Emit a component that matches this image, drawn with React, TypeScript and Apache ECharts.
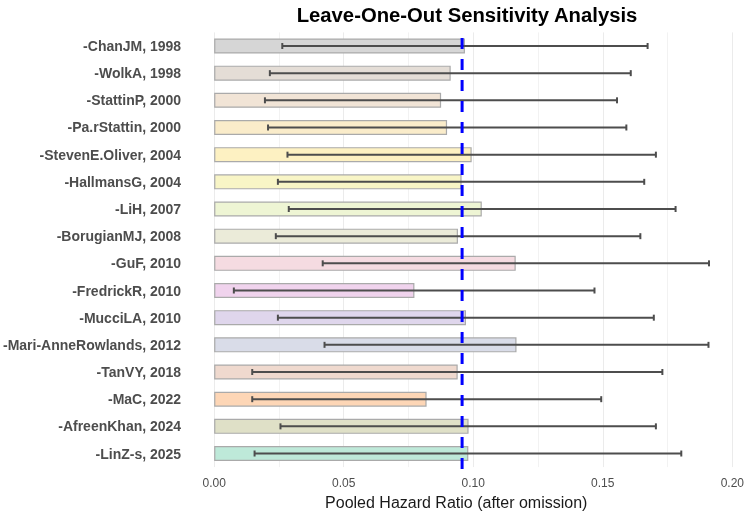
import React, { useEffect, useRef } from "react";
import * as echarts from "echarts";

const studies = [
  "-ChanJM, 1998",
  "-WolkA, 1998",
  "-StattinP, 2000",
  "-Pa.rStattin, 2000",
  "-StevenE.Oliver, 2004",
  "-HallmansG, 2004",
  "-LiH, 2007",
  "-BorugianMJ, 2008",
  "-GuF, 2010",
  "-FredrickR, 2010",
  "-MucciLA, 2010",
  "-Mari-AnneRowlands, 2012",
  "-TanVY, 2018",
  "-MaC, 2022",
  "-AfreenKhan, 2024",
  "-LinZ-s, 2025",
];

const pooledHR = [
  0.0968, 0.0913, 0.0876, 0.0899, 0.0994, 0.0955, 0.1033, 0.0941,
  0.1164, 0.0773, 0.0972, 0.1167, 0.094, 0.082, 0.0982, 0.0981,
];

const lowerCI = [
  0.0263, 0.0215, 0.0196, 0.0208, 0.0283, 0.0246, 0.0288, 0.0238,
  0.0419, 0.0076, 0.0246, 0.0426, 0.0147, 0.0147, 0.0256, 0.0156,
];

const upperCI = [
  0.1673, 0.1608, 0.1555, 0.1591, 0.1705, 0.166, 0.1781, 0.1645,
  0.191, 0.1468, 0.1697, 0.1908, 0.173, 0.1494, 0.1705, 0.1803,
];

const barColors = [
  "#d6d6d6", "#e4ddd6", "#f1e4d6", "#faecca", "#fdf1c2", "#f8f5c6",
  "#eef5d4", "#ebebd9", "#f5dbe1", "#f0d3ed", "#dfd6ec", "#d9dce8",
  "#efd9ce", "#fdd6b6", "#dfe0c7", "#bee9d9",
];

const overallHR = [0.0957];

const xTicks = [0, 0.05, 0.1, 0.15, 0.2];

export default function App() {
  const ref = useRef<HTMLDivElement>(null);

  useEffect(() => {
    if (!ref.current) return;
    const chart = echarts.init(ref.current, null, { renderer: "svg" });
    const font = "Liberation Sans, Arial, Helvetica, sans-serif";

    const option = {
      animation: false,
      textStyle: { fontFamily: font },
      title: {
        text: "Leave-One-Out Sensitivity Analysis",
        left: 462,
        top: 0,
        textAlign: "center",
        textStyle: {
          fontSize: 20.3,
          fontWeight: "bold",
          color: "#000000",
          fontFamily: font,
        },
      },
      grid: {
        left: 214,
        right: 13,
        top: 32.4,
        height: 436.3,
        containLabel: false,
      },
      xAxis: {
        type: "value",
        min: xTicks[0],
        max: xTicks[xTicks.length - 1],
        interval: 0.05,
        name: "Pooled Hazard Ratio (after omission)",
        nameLocation: "middle",
        nameGap: 25,
        nameTextStyle: {
          fontSize: 16,
          color: "#1a1a1a",
          fontFamily: font,
          padding: [0, 34, 0, 0],
        },
        axisLine: { show: false },
        axisTick: { show: false },
        axisLabel: {
          color: "#4d4d4d",
          fontSize: 12,
          margin: 10,
          fontFamily: font,
          formatter: (v: number) => v.toFixed(2),
        },
        splitLine: { show: true, lineStyle: { color: "#ebebeb", width: 1 } },
        minorTick: { show: false, splitNumber: 2 },
        minorSplitLine: { show: true, lineStyle: { color: "#f2f2f2", width: 1 } },
      },
      yAxis: {
        type: "category",
        data: studies,
        inverse: true,
        axisLine: { show: false },
        axisTick: { show: false },
        splitLine: { show: false },
        axisLabel: {
          color: "#4d4d4d",
          fontSize: 14,
          fontWeight: "bold",
          margin: 33,
          fontFamily: font,
        },
      },
      series: [
        {
          type: "bar",
          data: pooledHR.map((v, i) => ({
            value: v,
            itemStyle: {
              color: barColors[i],
              borderColor: "#aaaaaa",
              borderWidth: 1.2,
            },
          })),
          barWidth: 15,
          z: 2,
        },
        {
          type: "custom",
          z: 3,
          data: studies.map((_, i) => [i, lowerCI[i], upperCI[i]]),
          renderItem: (params: any, api: any) => {
            const idx = api.value(0);
            const lo = api.coord([api.value(1), idx]);
            const hi = api.coord([api.value(2), idx]);
            const h = 3;
            const style = { stroke: "#4d4d4d", lineWidth: 2 };
            return {
              type: "group",
              children: [
                { type: "line", shape: { x1: lo[0], y1: lo[1], x2: hi[0], y2: hi[1] }, style },
                { type: "line", shape: { x1: lo[0], y1: lo[1] - h, x2: lo[0], y2: lo[1] + h }, style },
                { type: "line", shape: { x1: hi[0], y1: hi[1] - h, x2: hi[0], y2: hi[1] + h }, style },
              ],
            };
          },
        },
        {
          type: "custom",
          z: 4,
          data: overallHR.map((v) => [v, 0]),
          renderItem: (params: any, api: any) => {
            const cs = params.coordSys;
            const p = api.coord([api.value(0), 0]);
            const yBottom = cs.y + cs.height + 2;
            const yTop = cs.y + 2;
            return {
              type: "line",
              shape: { x1: p[0], y1: yBottom, x2: p[0], y2: yTop },
              style: { stroke: "#0000ff", lineWidth: 3, lineDash: [11, 10] },
            };
          },
        },
      ],
    };

    chart.setOption(option as any);
    return () => chart.dispose();
  }, []);

  return (
    <div
      ref={ref}
      style={{ position: "fixed", left: 0, top: 0, width: 747, height: 515 }}
    />
  );
}
